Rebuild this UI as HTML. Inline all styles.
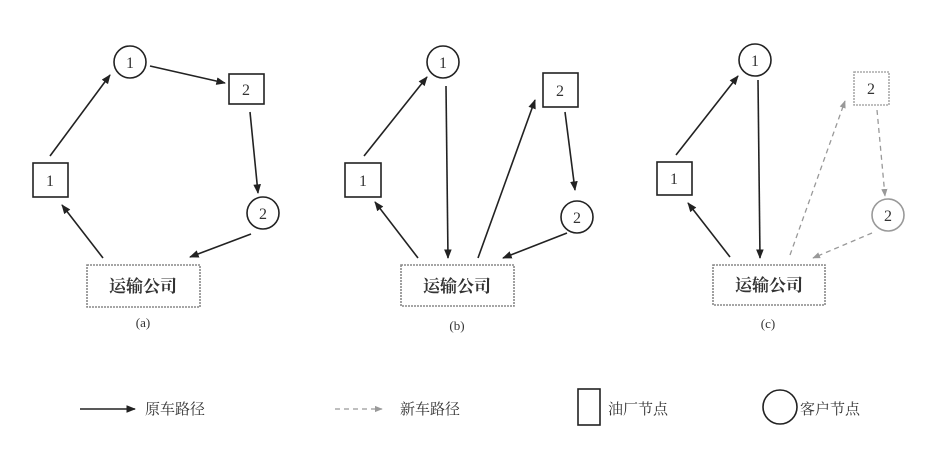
<!DOCTYPE html>
<html><head><meta charset="utf-8"><style>
body{margin:0;background:#fff}
svg{display:block}
text{font-family:"Liberation Serif","Noto Serif CJK SC",serif;fill:#333}
</style></head><body>
<svg width="925" height="473" viewBox="0 0 925 473" xmlns="http://www.w3.org/2000/svg">
<defs>
<marker id="ah" viewBox="0 0 10 10" refX="9" refY="5" markerWidth="6" markerHeight="6" orient="auto"><path d="M0,1 L10,5 L0,9 z" fill="#222"/></marker>
<marker id="ahg" viewBox="0 0 10 10" refX="9" refY="5" markerWidth="6" markerHeight="6" orient="auto"><path d="M0,1 L10,5 L0,9 z" fill="#999"/></marker>
</defs>
<g stroke="#222" stroke-width="1.6" fill="#fff">
<!-- (a) -->
<circle cx="130" cy="62" r="16"/>
<rect x="229" y="74" width="35" height="30"/>
<circle cx="263" cy="213" r="16"/>
<rect x="33" y="163" width="35" height="34"/>
<rect x="87" y="265" width="113" height="42" stroke="#888" stroke-dasharray="2,1"/>
<!-- (b) -->
<circle cx="443" cy="62" r="16"/>
<rect x="345" y="163" width="36" height="34"/>
<rect x="543" y="73" width="35" height="34"/>
<circle cx="577" cy="217" r="16"/>
<rect x="401" y="265" width="113" height="41" stroke="#888" stroke-dasharray="2,1"/>
<!-- (c) -->
<circle cx="755" cy="60" r="16"/>
<rect x="657" y="162" width="35" height="33"/>
<rect x="854" y="72" width="35" height="33" stroke="#aaa" stroke-dasharray="2,1"/>
<circle cx="888" cy="215" r="16" stroke="#999"/>
<rect x="713" y="265" width="112" height="40" stroke="#888" stroke-dasharray="2,1"/>
<!-- legend -->
<rect x="578" y="389" width="22" height="36"/>
<circle cx="780" cy="407" r="17"/>
</g>
<g stroke="#222" stroke-width="1.6" fill="none" marker-end="url(#ah)">
<line x1="50" y1="156" x2="110" y2="75"/>
<line x1="150" y1="66" x2="225" y2="83"/>
<line x1="250" y1="112" x2="258" y2="193"/>
<line x1="251" y1="234" x2="190" y2="257"/>
<line x1="103" y1="258" x2="62" y2="205"/>

<line x1="364" y1="156" x2="427" y2="77"/>
<line x1="446" y1="86" x2="448" y2="258"/>
<line x1="478" y1="258" x2="535" y2="100"/>
<line x1="565" y1="112" x2="575" y2="190"/>
<line x1="567" y1="233" x2="503" y2="258"/>
<line x1="418" y1="258" x2="375" y2="202"/>

<line x1="676" y1="155" x2="738" y2="76"/>
<line x1="758" y1="80" x2="760" y2="258"/>
<line x1="730" y1="257" x2="688" y2="203"/>
<line x1="80" y1="409" x2="135" y2="409"/>
</g>
<g stroke="#999" stroke-width="1.3" fill="none" stroke-dasharray="5,4" marker-end="url(#ahg)">
<line x1="790" y1="255" x2="845" y2="101"/>
<line x1="877" y1="110" x2="885" y2="196"/>
<line x1="872" y1="233" x2="813" y2="258"/>
<line x1="335" y1="409" x2="382" y2="409"/>
</g>
<g font-size="16" text-anchor="middle">
<text x="130" y="68">1</text><text x="246" y="95">2</text><text x="263" y="219">2</text><text x="50" y="186">1</text>
<text x="443" y="68">1</text><text x="560" y="96">2</text><text x="577" y="223">2</text><text x="363" y="186">1</text>
<text x="755" y="66">1</text><text x="871" y="94">2</text><text x="888" y="221" fill="#777">2</text><text x="674" y="184">1</text>
</g>
<g font-size="17" text-anchor="middle" font-weight="bold">
<text x="143" y="292">运输公司</text>
<text x="457" y="292">运输公司</text>
<text x="769" y="291">运输公司</text>
</g>
<g font-size="13" text-anchor="middle">
<text x="143" y="327">(a)</text><text x="457" y="330">(b)</text><text x="768" y="328">(c)</text>
</g>
<g font-size="15">
<text x="145" y="414">原车路径</text>
<text x="400" y="414">新车路径</text>
<text x="608" y="414">油厂节点</text>
<text x="800" y="414">客户节点</text>
</g>
</svg>
</body></html>
